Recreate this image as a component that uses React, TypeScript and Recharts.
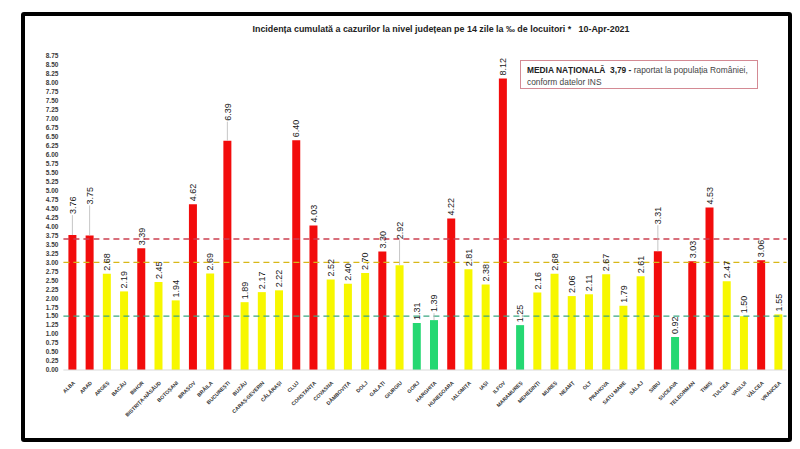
import React from 'react';
import { BarChart, Bar, XAxis, YAxis, Cell, ReferenceLine, LabelList } from 'recharts';

const counties = [
  'ALBA', 'ARAD', 'ARGEȘ', 'BACĂU', 'BIHOR', 'BISTRIȚA-NĂSĂUD', 'BOTOȘANI', 'BRAȘOV', 'BRĂILA', 'BUCUREȘTI',
  'BUZĂU', 'CARAȘ-SEVERIN', 'CĂLĂRAȘI', 'CLUJ', 'CONSTANȚA', 'COVASNA', 'DÂMBOVIȚA', 'DOLJ', 'GALAȚI', 'GIURGIU',
  'GORJ', 'HARGHITA', 'HUNEDOARA', 'IALOMIȚA', 'IAȘI', 'ILFOV', 'MARAMUREȘ', 'MEHEDINȚI', 'MUREȘ', 'NEAMȚ',
  'OLT', 'PRAHOVA', 'SATU MARE', 'SĂLAJ', 'SIBIU', 'SUCEAVA', 'TELEORMAN', 'TIMIȘ', 'TULCEA', 'VASLUI',
  'VÂLCEA', 'VRANCEA',
];

const incidence = [
  3.76, 3.75, 2.68, 2.19, 3.39, 2.45, 1.94, 4.62, 2.69, 6.39,
  1.89, 2.17, 2.22, 6.40, 4.03, 2.52, 2.40, 2.70, 3.30, 2.92,
  1.31, 1.39, 4.22, 2.81, 2.38, 8.12, 1.25, 2.16, 2.68, 2.06,
  2.11, 2.67, 1.79, 2.61, 3.31, 0.92, 3.03, 4.53, 2.47, 1.50,
  3.06, 1.55,
];

const yTicks = [
  0, 0.25, 0.5, 0.75, 1, 1.25, 1.5, 1.75, 2, 2.25, 2.5, 2.75, 3, 3.25, 3.5, 3.75,
  4, 4.25, 4.5, 4.75, 5, 5.25, 5.5, 5.75, 6, 6.25, 6.5, 6.75, 7, 7.25, 7.5, 7.75,
  8, 8.25, 8.5, 8.75,
];

const redLevel = 3.65;
const yellowLevel = 3.0;
const greenLevel = 1.5;
const nationalAverage = '3,79';

const data = counties.map((name, i) => ({ name, value: incidence[i] }));

const RED = '#f20c0c';
const YELLOW = '#f7f700';
const GREEN = '#25d872';

const colorFor = (v: number) => (v > yellowLevel ? RED : v >= greenLevel ? YELLOW : GREEN);

// labels that sit higher above their bar, joined to it by a thin grey leader line
const leaderLift: Record<string, number> = {
  ALBA: 18,
  ARAD: 28,
  'BUCUREȘTI': 17,
  GIURGIU: 23,
  SIBIU: 24,
  HARGHITA: 5,
};

const FONT = '"Liberation Sans", Arial, sans-serif';

const ValueLabel = (props: any) => {
  const { x, y, width, value, index } = props;
  const cx = x + width / 2;
  const name = counties[index];
  const lift = leaderLift[name] || 0;
  const ty = y - 3 - lift;
  return (
    <g>
      {lift > 0 && (
        <line x1={cx} x2={cx} y1={y} y2={ty + 1} stroke="#b8b8b8" strokeWidth={0.8} />
      )}
      <text
        transform={`translate(${cx},${ty}) rotate(-90)`}
        x={0}
        y={0}
        dy="0.36em"
        textAnchor="start"
        fontSize={9}
        fontFamily={FONT}
        fill="#1a1a1a"
      >
        {Number(value).toFixed(2)}
      </text>
    </g>
  );
};

const XTick = (props: any) => {
  const { x, y, payload } = props;
  return (
    <text
      transform={`translate(${x + 2},${y + 4}) rotate(-45)`}
      textAnchor="end"
      fontSize={5.2}
      fontWeight="bold"
      fontFamily={FONT}
      fill="#333"
      dy="0.35em"
    >
      {payload.value}
    </text>
  );
};

export default function App() {
  return (
    <div style={{ position: 'absolute', left: 0, top: 0, width: 800, height: 449, background: '#fff', overflow: 'hidden' }}>
      <div
        style={{
          position: 'absolute',
          left: 21,
          top: 12,
          width: 771,
          height: 430,
          border: '4px solid #000',
          borderRadius: 3,
          boxSizing: 'border-box',
        }}
      />
      <div style={{ position: 'absolute', left: 0, top: 0 }}>
        <BarChart
          width={800}
          height={449}
          data={data}
          margin={{ top: 56, right: 13.4, bottom: 9, left: 33.4 }}
        >
          <XAxis
            dataKey="name"
            interval={0}
            height={70}
            tickLine={false}
            axisLine={{ stroke: '#d9d9d9' }}
            tick={<XTick />}
          />
          <YAxis
            type="number"
            domain={[0, 8.75]}
            ticks={yTicks}
            interval={0}
            width={30}
            axisLine={false}
            tickLine={false}
            tickSize={0}
            tickMargin={5}
            tickFormatter={(v: number) => v.toFixed(2)}
            tick={{ fontSize: 6.5, fontWeight: 'bold', fill: '#3a3a3a', fontFamily: FONT }}
          />
          <Bar dataKey="value" barSize={8} isAnimationActive={false}>
            {data.map((d, i) => (
              <Cell key={i} fill={colorFor(d.value)} />
            ))}
            <LabelList dataKey="value" content={<ValueLabel />} />
          </Bar>
          <ReferenceLine y={redLevel} stroke="#cc4050" strokeWidth={1.6} strokeDasharray="6 4" ifOverflow="visible" />
          <ReferenceLine y={yellowLevel} stroke="#d8b818" strokeWidth={1.4} strokeDasharray="6 4" ifOverflow="visible" />
          <ReferenceLine y={greenLevel} stroke="#3aa882" strokeWidth={1.4} strokeDasharray="6 4" ifOverflow="visible" />
        </BarChart>
      </div>
      <svg width={800} height={449} style={{ position: 'absolute', left: 0, top: 0, pointerEvents: 'none' }}>
        <text
          x={441}
          y={32}
          textAnchor="middle"
          fontSize={8.5}
          fontWeight="bold"
          fontFamily={FONT}
          fill="#222"
          textLength={377}
          lengthAdjust="spacingAndGlyphs"
        >
          {'Incidența cumulată a cazurilor la nivel județean pe 14 zile la ‰ de locuitori *\u00a0\u00a0 10-Apr-2021'}
        </text>
        <rect x={520.5} y={60.5} width={237} height={28} fill="#fff" stroke="#d48a94" strokeWidth={1} />
        <text x={527} y={73} fontSize={8.4} fontFamily={FONT} fill="#222">
          <tspan fontWeight="bold">{`MEDIA NAȚIONALĂ\u00a0 ${nationalAverage} -`}</tspan>
          <tspan fill="#444"> raportat la populația României,</tspan>
        </text>
        <text x={527} y={84.5} fontSize={8.4} fontFamily={FONT} fill="#444">
          conform datelor INS
        </text>
      </svg>
    </div>
  );
}
